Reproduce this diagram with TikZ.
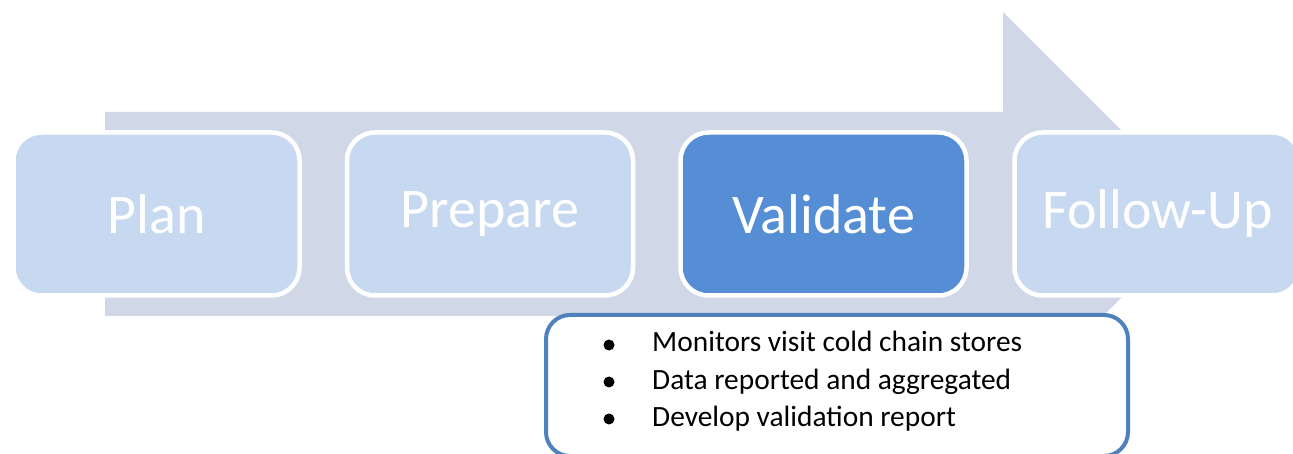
\documentclass[tikz,border=0pt]{standalone}
\usepackage{fontspec}
\setmainfont{Carlito}
\definecolor{arrowc}{RGB}{208,216,232}
\definecolor{lightbox}{RGB}{199,217,240}
\definecolor{darkbox}{RGB}{85,142,213}
\definecolor{bluebord}{RGB}{79,129,189}
\begin{document}
\begin{tikzpicture}[x=1pt,y=-1pt,
  stagebox/.style={draw=white,line width=4.5pt,rounded corners=28pt,minimum width=286pt,minimum height=163pt,inner sep=0pt,text=white,font=\fontsize{56}{62}\selectfont},
  bullettext/.style={anchor=base west,inner sep=0pt,font=\fontsize{29.4}{34}\selectfont,text=black},
  bulletdot/.style={circle,fill=black,inner sep=0pt,minimum size=11pt}]
\useasboundingbox (0,0) rectangle (1293,454);
\clip (0,0) rectangle (1293,454);
% big arrow
\fill[arrowc] (105,112) -- (1003,112) -- (1003,12) -- (1205,214) -- (1003,416) -- (1003,316) -- (105,316) -- cycle;
% stage boxes
\node[stagebox,fill=lightbox] (plan) at (156.5,214) {Plan};
\node[stagebox,fill=lightbox] (prep) at (490,214) {Prepare};
\node[stagebox,fill=darkbox] (vali) at (823.5,214) {Validate};
\node[stagebox,fill=lightbox] (foll) at (1157.5,214) {Follow-Up};
% detail box
\draw[bluebord,fill=white,line width=4pt,rounded corners=24pt] (546,315) rectangle (1128,456);
\node[bulletdot] (b1) at (609,345) {};
\node[bullettext] (t1) at (652,352) {Monitors visit cold chain stores};
\node[bulletdot] (b2) at (609,382) {};
\node[bullettext] (t2) at (652,389) {Data reported and aggregated};
\node[bulletdot] (b3) at (609,419) {};
\node[bullettext] (t3) at (652,426) {Develop validation report};
\end{tikzpicture}
\end{document}
